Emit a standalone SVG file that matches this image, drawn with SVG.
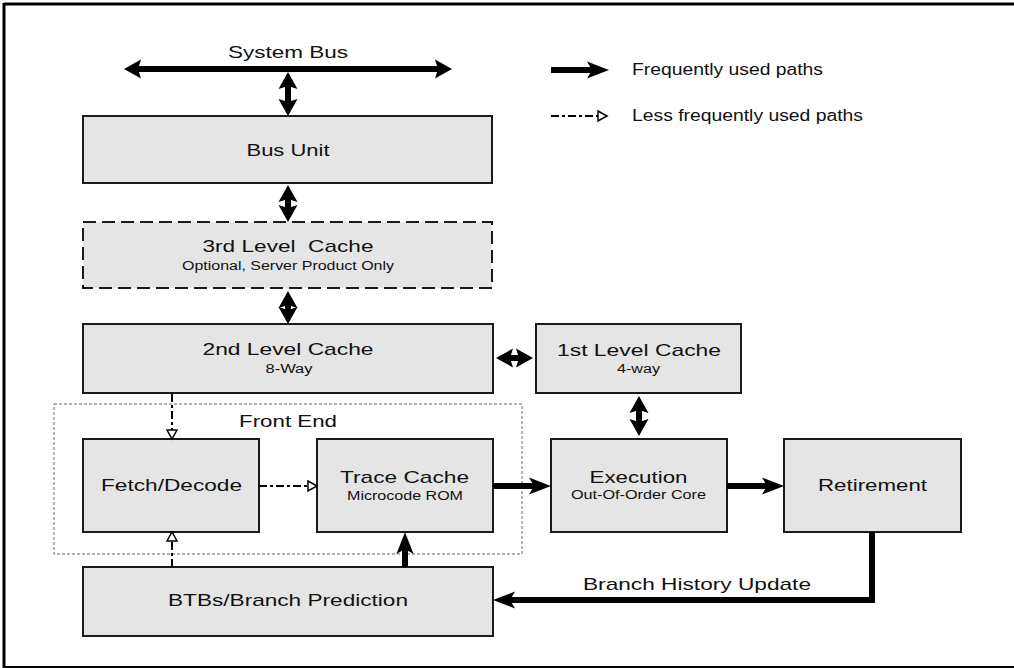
<svg xmlns="http://www.w3.org/2000/svg" width="1014" height="668" viewBox="0 0 1014 668">
<style>
text{font-family:"Liberation Sans",Arial,Helvetica,sans-serif;fill:#111;text-anchor:middle;}
.big{font-size:17px;}
.sm{font-size:12px;}
.lg{font-size:16px;text-anchor:start;}
.box{fill:#e5e5e5;stroke:#1a1a1a;stroke-width:2;}
.dbox{fill:#e5e5e5;stroke:#1a1a1a;stroke-width:2;stroke-dasharray:13,6;}
.fe{fill:none;stroke:#666;stroke-width:1;stroke-dasharray:3,2;}
.thick{fill:none;stroke:#000;stroke-width:6;}
.dbl{fill:none;stroke:#000;stroke-width:6;marker-start:url(#dh);marker-end:url(#dh);}
.dash{fill:none;stroke:#000;stroke-width:2;stroke-dasharray:8,3,3,3;marker-end:url(#oh);}
.frame{stroke:#000;fill:none;}
</style>
<defs>
<marker id="ah" markerUnits="userSpaceOnUse" markerWidth="24" markerHeight="18" refX="5" refY="8.5" orient="auto" overflow="visible">
<path d="M0,0 L22,8.5 L0,17 L5,8.5 z" fill="#000"/>
</marker>
<marker id="dh" markerUnits="userSpaceOnUse" markerWidth="20" markerHeight="20" refX="3" refY="9.5" orient="auto-start-reverse" overflow="visible">
<path d="M0,0 L17,9.5 L0,19 L3,9.5 z" fill="#000"/>
</marker>
<marker id="oh" markerUnits="userSpaceOnUse" markerWidth="12" markerHeight="12" refX="0" refY="5" orient="auto" overflow="visible">
<path d="M0,0 L9,5 L0,10 z" fill="#fff" stroke="#000" stroke-width="1.5"/>
</marker>
</defs>

<g id="frame">
<line class="frame" x1="4" y1="4" x2="1014" y2="4" stroke-width="3"/>
<line class="frame" x1="4" y1="3" x2="4" y2="668" stroke-width="3"/>
<line class="frame" x1="4" y1="667" x2="1014" y2="667" stroke-width="2"/>
</g>

<g id="legend">
<line class="thick" x1="551" y1="70" x2="592" y2="70" marker-end="url(#ah)"/>
<text class="lg" x="632" y="75" textLength="191" lengthAdjust="spacingAndGlyphs">Frequently used paths</text>
<line class="dash" x1="551" y1="116" x2="598" y2="116"/>
<text class="lg" x="632" y="121" textLength="231" lengthAdjust="spacingAndGlyphs">Less frequently used paths</text>
</g>

<g id="system-bus">
<text class="big" x="288" y="58" textLength="120" lengthAdjust="spacingAndGlyphs">System Bus</text>
</g>

<g id="front-end">
<rect class="fe" x="54" y="404" width="468" height="150"/>
<text class="big" x="288" y="427" textLength="98" lengthAdjust="spacingAndGlyphs">Front End</text>
</g>

<g id="bus-unit">
<rect class="box" x="83" y="116" width="409" height="67"/>
<text class="big" x="288" y="156" textLength="83" lengthAdjust="spacingAndGlyphs">Bus Unit</text>
</g>

<g id="l3-cache">
<rect class="dbox" x="83" y="222" width="409" height="66"/>
<text class="big" x="288" y="252" textLength="171" lengthAdjust="spacingAndGlyphs" xml:space="preserve">3rd Level  Cache</text>
<text class="sm" x="288" y="270" textLength="212" lengthAdjust="spacingAndGlyphs">Optional, Server Product Only</text>
</g>

<g id="l2-cache">
<rect class="box" x="83" y="324" width="410" height="69"/>
<text class="big" x="288" y="355" textLength="171" lengthAdjust="spacingAndGlyphs">2nd Level Cache</text>
<text class="sm" x="289" y="373" textLength="47" lengthAdjust="spacingAndGlyphs">8-Way</text>
</g>

<g id="l1-cache">
<rect class="box" x="536" y="324" width="205" height="69"/>
<text class="big" x="639" y="356" textLength="164" lengthAdjust="spacingAndGlyphs">1st Level Cache</text>
<text class="sm" x="638.5" y="373" textLength="43" lengthAdjust="spacingAndGlyphs">4-way</text>
</g>

<g id="fetch-decode">
<rect class="box" x="83" y="439" width="176" height="93"/>
<text class="big" x="171.5" y="491" textLength="141" lengthAdjust="spacingAndGlyphs">Fetch/Decode</text>
</g>

<g id="trace-cache">
<rect class="box" x="317" y="439" width="176" height="93"/>
<text class="big" x="404.5" y="483" textLength="129" lengthAdjust="spacingAndGlyphs">Trace Cache</text>
<text class="sm" x="405" y="500" textLength="116" lengthAdjust="spacingAndGlyphs">Microcode ROM</text>
</g>

<g id="execution">
<rect class="box" x="551" y="439" width="176" height="93"/>
<text class="big" x="638.5" y="483" textLength="98" lengthAdjust="spacingAndGlyphs">Execution</text>
<text class="sm" x="638.5" y="499" textLength="135" lengthAdjust="spacingAndGlyphs">Out-Of-Order Core</text>
</g>

<g id="retirement">
<rect class="box" x="784" y="439" width="177" height="93"/>
<text class="big" x="872.5" y="491" textLength="109" lengthAdjust="spacingAndGlyphs">Retirement</text>
</g>

<g id="btb">
<rect class="box" x="83" y="567" width="410" height="69"/>
<text class="big" x="288" y="606" textLength="240" lengthAdjust="spacingAndGlyphs">BTBs/Branch Prediction</text>
</g>

<g id="connectors">
<line class="dbl" x1="138" y1="69" x2="438" y2="69"/>
<line class="dbl" x1="288" y1="86" x2="288" y2="102"/>
<line class="dbl" x1="288" y1="199" x2="288" y2="208"/>
<line class="dbl" x1="288" y1="305" x2="288" y2="310"/>
<line class="dbl" x1="510" y1="358" x2="519" y2="358"/>
<line class="dbl" x1="639" y1="410" x2="639" y2="422"/>
<line class="dash" x1="172" y1="394" x2="172" y2="430"/>
<line class="dash" x1="259" y1="486" x2="308" y2="486"/>
<line class="dash" x1="172" y1="567" x2="172" y2="541"/>
<line class="thick" x1="493" y1="486" x2="534" y2="486" marker-end="url(#ah)"/>
<line class="thick" x1="727" y1="486" x2="767" y2="486" marker-end="url(#ah)"/>
<line class="thick" x1="405" y1="567" x2="405" y2="549" marker-end="url(#ah)"/>
<polyline class="thick" points="872,532 872,600 510,600" marker-end="url(#ah)"/>
<text class="big" x="697" y="590" textLength="228" lengthAdjust="spacingAndGlyphs">Branch History Update</text>
</g>
</svg>
